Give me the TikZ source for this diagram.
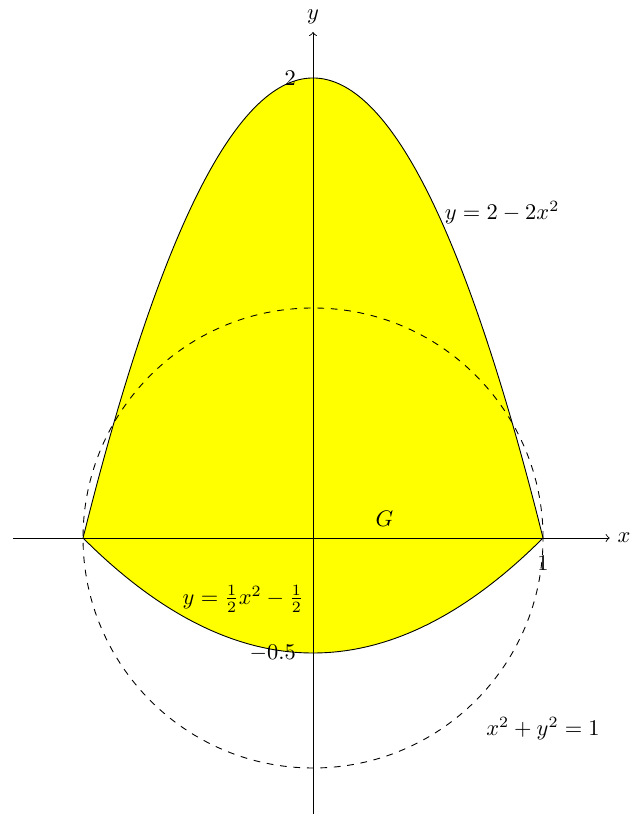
\documentclass[tikz,border=0pt]{standalone}
\definecolor{regionyellow}{RGB}{255,255,0}
\begin{document}
\begin{tikzpicture}[x=3.6cm,y=3.6cm]
\useasboundingbox (-1.361,-1.2) rectangle (1.383,2.339);
% region between the two parabolas
\fill[regionyellow]
    plot[domain=-1:1,samples=80,smooth] (\x,{2-2*\x*\x})
    -- plot[domain=1:-1,samples=80,smooth] (\x,{0.5*\x*\x-0.5})
    -- cycle;
\draw[line width=0.4pt,domain=-1:1,samples=80,smooth]
    plot (\x,{2-2*\x*\x});
\draw[line width=0.4pt,domain=-1:1,samples=80,smooth]
    plot (\x,{0.5*\x*\x-0.5});

\coordinate (xmin) at (-1.304,0);
\coordinate (xmax) at (1.29,0);
\coordinate (ymin) at (0,-1.25);
\coordinate (ymax) at (0,2.2);
\draw[->] (xmin) -- (xmax) node[right] (xlabel) {$x$};
\draw[->] (ymin) -- (ymax) node[above] (ylabel) {$y$};

\draw[dashed] (0,0) circle (1);

\node[left] (ttwo) at (-0.04,2) {$2$};
\node[below] (tone) at (1,-0.042) {$1$};
\node[left] (thalf) at (-0.04,-0.5) {$-0.5$};

\node (regionG) at (0.31,0.083) {$G$};
\node (upper) at (0.822,1.413) {$y=2-2x^2$};
\node (lower) at (-0.304,-0.265) {$y=\frac{1}{2}x^2-\frac{1}{2}$};
\node (circ) at (1.0,-0.83) {$x^2+y^2=1$};
\end{tikzpicture}
\end{document}
